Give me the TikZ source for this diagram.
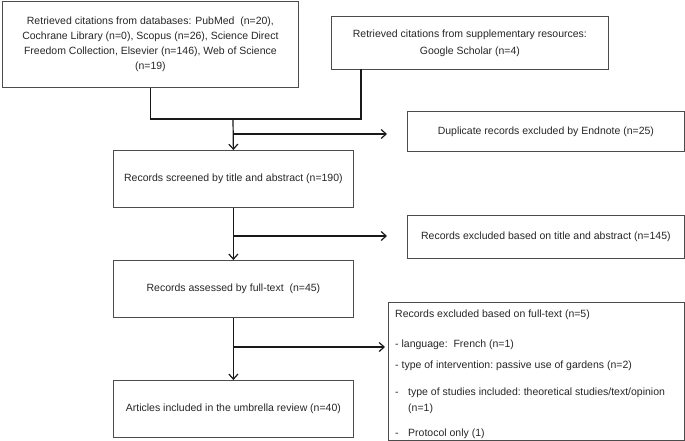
\documentclass[tikz,border=0pt]{standalone}
\usepackage{fontspec}
\setmainfont{Liberation Sans}
\usetikzlibrary{arrows.meta}
\begin{document}
\begin{tikzpicture}[x=1pt,y=-1pt,
  box/.style={draw=black!70, line width=0.8pt, inner sep=0pt, anchor=north west,
    font=\fontsize{10.5}{15}\selectfont, text=black!85, align=center},
  conn/.style={line width=1.2pt, draw=black!90},
  arr/.style={conn, -{Straight Barb[length=5pt,width=9pt,line width=1.2pt]}}]
\useasboundingbox (0,0) rectangle (685,440);

\node[box, minimum width=296, minimum height=86.5] (db) at (2,0.5)
  {Retrieved citations from databases: PubMed\ \ (n=20),\\
   Cochrane Library (n=0), Scopus (n=26), Science Direct\\
   Freedom Collection, Elsevier (n=146), Web of Science\\
   (n=19)};
\node[box, minimum width=277, minimum height=53, font=\fontsize{10.5}{17}\selectfont] (sup) at (331,16)
  {Retrieved citations from supplementary resources:\\ Google Scholar (n=4)};
\node[box, minimum width=277, minimum height=40] (dup) at (407,111)
  {Duplicate records excluded by Endnote (n=25)};
\node[box, minimum width=240, minimum height=57] (scr) at (113,150)
  {Records screened by title and abstract (n=190)};
\node[box, minimum width=277, minimum height=43] (exa) at (407,215)
  {Records excluded based on title and abstract (n=145)};
\node[box, minimum width=240, minimum height=57] (ful) at (113,260)
  {Records assessed by full-text\ \ (n=45)};
\node[box, minimum width=296, minimum height=137.5] (exf) at (388,302) {};
\node[anchor=north west, inner sep=0pt, align=left, text=black!85,
      font=\fontsize{10.5}{16}\selectfont] (exftext) at (395,309.5)
  {Records excluded based on full-text (n=5)\\[14pt]
   - language:\ \ French (n=1)\\[5pt]
   - type of intervention:\ passive use of gardens (n=2)\\[11pt]
   \makebox[13pt][l]{-}type of studies included:\ theoretical studies/text/opinion\\
   \hspace*{13pt}(n=1)\\[9pt]
   \makebox[13pt][l]{-}Protocol only (1)};
\node[box, minimum width=240, minimum height=57] (inc) at (113,380)
  {Articles included in the umbrella review (n=40)};

\coordinate (supout) at (361,69);
\coordinate (jr) at (361,119);
\coordinate (jn) at (233,119);
\coordinate (b1) at (233,134);
\coordinate (b2) at (233,236);
\coordinate (b3) at (233,347);

\draw[conn] (db.south) |- (jr) -- (supout);
\draw[arr] (jn) -- (scr.north);
\draw[arr, shorten >=20pt] (b1) -- (b1 -| dup.west);
\draw[arr] (scr.south) -- (ful.north);
\draw[arr, shorten >=20pt] (b2) -- (b2 -| exa.west);
\draw[arr] (ful.south) -- (inc.north);
\draw[arr, shorten >=3pt] (b3) -- (b3 -| exf.west);
\end{tikzpicture}
\end{document}
